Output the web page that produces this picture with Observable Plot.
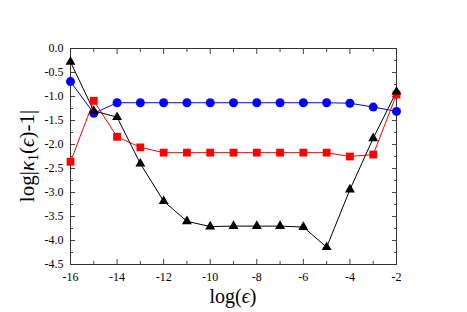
<!DOCTYPE html>
<html>
<head>
<meta charset="utf-8">
<script src="https://cdn.jsdelivr.net/npm/d3@7"></script>
<script src="https://cdn.jsdelivr.net/npm/@observablehq/plot@0.6"></script>
<style>
  html, body { margin: 0; padding: 0; background: #fff; }
  svg text { font-family: 'Liberation Serif', 'DejaVu Serif', serif !important; }
</style>
</head>
<body>
<div id="chart"></div>
<script>
const logEps = [-16, -15, -14, -13, -12, -11, -10, -9, -8, -7, -6, -5, -4, -3, -2];
const blueSeries = [-0.69, -1.35, -1.13, -1.13, -1.13, -1.13, -1.13, -1.13, -1.13, -1.13, -1.13, -1.13, -1.14, -1.22, -1.31];
const redSeries = [-2.36, -1.09, -1.84, -2.06, -2.17, -2.17, -2.17, -2.17, -2.17, -2.17, -2.17, -2.17, -2.25, -2.21, -0.96];
const blackSeries = [-0.28, -1.30, -1.43, -2.40, -3.18, -3.60, -3.71, -3.70, -3.70, -3.70, -3.72, -4.14, -2.94, -1.87, -0.90];

const xMajor = [-16, -14, -12, -10, -8, -6, -4, -2];
const xMinor = [-15, -13, -11, -9, -7, -5, -3];
const yMajor = [0, -0.5, -1, -1.5, -2, -2.5, -3, -3.5, -4, -4.5];
const yMinor = [-0.25, -0.75, -1.25, -1.75, -2.25, -2.75, -3.25, -3.75, -4.25];
const yTickLabels = ["0.0", "-0.5", "-1.0", "-1.5", "-2.0", "-2.5", "-3.0", "-3.5", "-4.0", "-4.5"];

const toRows = (vals) => logEps.map((x, i) => ({x, y: vals[i]}));
const blue = toRows(blueSeries), red = toRows(redSeries), black = toRows(blackSeries);

const font = "'Liberation Serif', 'DejaVu Serif', serif";
const tickStroke = "#444";
const chart = Plot.plot({
  width: 467,
  height: 312,
  marginLeft: 70,
  marginRight: 71,
  marginTop: 48,
  marginBottom: 48,
  style: {fontFamily: font, fontSize: "12px", background: "#fff", color: "#000"},
  x: {domain: [-16, -2]},
  y: {domain: [-4.5, 0]},
  marks: [
    Plot.axisX({ticks: xMajor, tickSize: 0, tickPadding: 8, tickFormat: d => String(d), label: null, fontSize: 12}),
    Plot.axisY({ticks: yMajor, tickSize: 0, tickPadding: 7, tickFormat: d => yTickLabels[yMajor.indexOf(d)], label: null, fontSize: 12}),
    Plot.axisX({anchor: "bottom", ticks: xMajor, tickSize: -5, text: null, label: null, stroke: tickStroke}),
    Plot.axisX({anchor: "bottom", ticks: xMinor, tickSize: -3, text: null, label: null, stroke: tickStroke}),
    Plot.axisX({anchor: "top", ticks: xMajor, tickSize: -5, text: null, label: null, stroke: tickStroke}),
    Plot.axisX({anchor: "top", ticks: xMinor, tickSize: -3, text: null, label: null, stroke: tickStroke}),
    Plot.axisY({anchor: "left", ticks: yMajor, tickSize: -5, text: null, label: null, stroke: tickStroke}),
    Plot.axisY({anchor: "left", ticks: yMinor, tickSize: -3, text: null, label: null, stroke: tickStroke}),
    Plot.axisY({anchor: "right", ticks: yMajor, tickSize: -5, text: null, label: null, stroke: tickStroke}),
    Plot.axisY({anchor: "right", ticks: yMinor, tickSize: -3, text: null, label: null, stroke: tickStroke}),
    Plot.frame({stroke: "#333", strokeWidth: 1}),
    Plot.line(blue, {x: "x", y: "y", stroke: "#0000ff", strokeWidth: 1}),
    Plot.line(red, {x: "x", y: "y", stroke: "#ff0000", strokeWidth: 1}),
    Plot.line(black, {x: "x", y: "y", stroke: "#000000", strokeWidth: 1}),
    Plot.dot(blue, {x: "x", y: "y", r: 4.5, fill: "#0000ff", symbol: "circle"}),
    Plot.dot(red, {x: "x", y: "y", r: 4.4, fill: "#ff0000", symbol: "square"}),
    Plot.dot(black, {x: "x", y: "y", r: 3.7, fill: "#000000", symbol: "triangle"})
  ]
});
document.getElementById("chart").appendChild(chart);

// Axis titles with italic / subscript parts
const svg = d3.select(chart);
svg.selectAll("text").attr("font-family", font);
const xt = svg.append("text")
  .attr("x", (70 + 396) / 2).attr("y", 303)
  .attr("text-anchor", "middle")
  .attr("font-family", font).attr("font-size", 20).attr("fill", "#000");
xt.append("tspan").text("log(");
xt.append("tspan").attr("font-style", "italic").text("ϵ");
xt.append("tspan").text(")");

const yt = svg.append("text")
  .attr("transform", "translate(34,156) rotate(-90)")
  .attr("text-anchor", "middle")
  .attr("font-family", font).attr("font-size", 21).attr("fill", "#000");
yt.append("tspan").text("log|");
yt.append("tspan").attr("font-style", "italic").text("κ");
yt.append("tspan").attr("font-size", 14).attr("dy", 4).text("1");
yt.append("tspan").attr("dy", -4).text("(");
yt.append("tspan").attr("font-style", "italic").text("ϵ");
yt.append("tspan").text(")-1|");
</script>
</body>
</html>
